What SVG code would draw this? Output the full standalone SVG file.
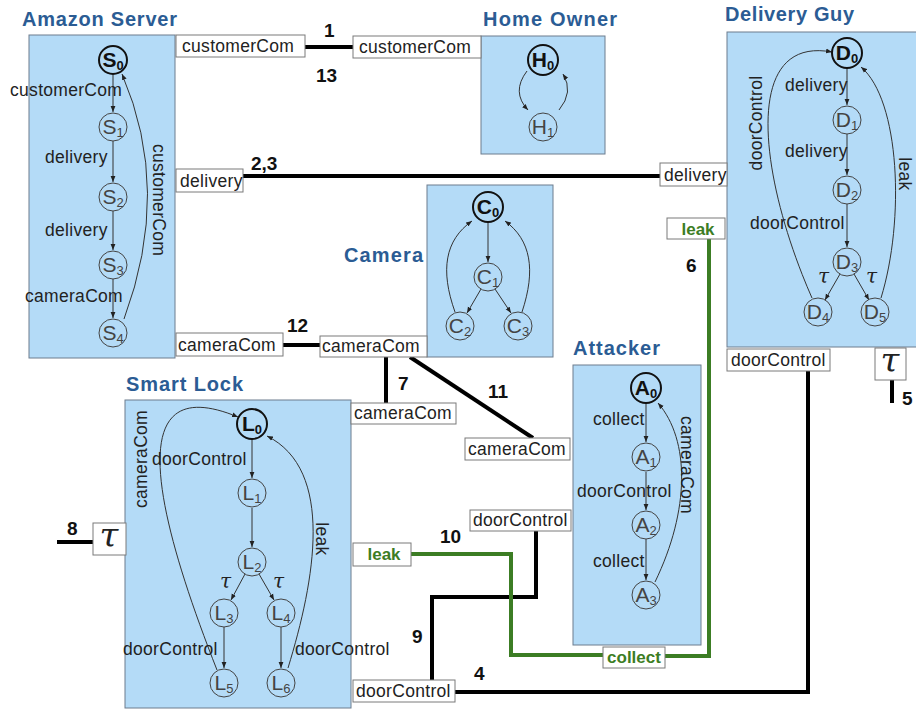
<svg xmlns="http://www.w3.org/2000/svg" width="916" height="711" viewBox="0 0 916 711">
<style>
text{font-family:"Liberation Sans",Arial,sans-serif}
.box{fill:#b4dbf7;stroke:#6d7d8e;stroke-width:1}
.title{font-size:20px;font-weight:bold;fill:#2b5c94}
.port{fill:#fff;stroke:#7a7a7a;stroke-width:1}
.pt{font-size:17.5px;fill:#222;letter-spacing:0.3px}
.gt{font-size:17px;font-weight:bold;fill:#3c7d24;text-anchor:middle}
.lbl{font-size:17.5px;fill:#222;letter-spacing:0.3px}
.num{font-size:19px;font-weight:bold;fill:#111}
.st{fill:none;stroke:#444;stroke-width:1}
.st0{fill:none;stroke:#111;stroke-width:2}
.nt{font-size:21px;fill:#444;text-anchor:middle}
.nt0{font-size:21px;fill:#111;font-weight:bold;text-anchor:middle}
.sb{font-size:13px}
.e{fill:none;stroke:#333;stroke-width:1;marker-end:url(#ar)}
.w{fill:none;stroke:#000;stroke-width:4}
.g{fill:none;stroke:#3c7d24;stroke-width:4}
.tau{font-family:"DejaVu Serif",serif;font-style:italic;fill:#222}
</style>
<defs>
<marker id="ar" viewBox="0 0 10 10" refX="10" refY="5" markerUnits="userSpaceOnUse" markerWidth="6" markerHeight="6" orient="auto"><path d="M0,1 L10,5 L0,9 z" fill="#222"/></marker>
</defs>

<!-- Amazon Server -->
<g id="amazon-server">
<text class="title" x="22" y="26" textLength="155">Amazon Server</text>
<rect class="box" x="29" y="35" width="146" height="323"/>
<g id="amazon-edges">
<path class="e" d="M113 75 V112"/>
<path class="e" d="M113 141 V182"/>
<path class="e" d="M113 211 V250"/>
<path class="e" d="M113 279 V318"/>
<path class="e" d="M124 319 Q172 190 122 74"/>
</g>
<g id="S0"><circle class="st0" cx="113" cy="60" r="14"/><text class="nt0" x="113" y="67">S<tspan class="sb" dy="3">0</tspan></text></g>
<g id="S1"><circle class="st" cx="113" cy="127" r="14"/><text class="nt" x="113" y="134">S<tspan class="sb" dy="3">1</tspan></text></g>
<g id="S2"><circle class="st" cx="113" cy="197" r="14"/><text class="nt" x="113" y="204">S<tspan class="sb" dy="3">2</tspan></text></g>
<g id="S3"><circle class="st" cx="113" cy="265" r="14"/><text class="nt" x="113" y="272">S<tspan class="sb" dy="3">3</tspan></text></g>
<g id="S4"><circle class="st" cx="113" cy="333" r="14"/><text class="nt" x="113" y="340">S<tspan class="sb" dy="3">4</tspan></text></g>
<text class="lbl" x="10" y="96">customerCom</text>
<text class="lbl" x="45" y="163">delivery</text>
<text class="lbl" x="45" y="236">delivery</text>
<text class="lbl" x="25" y="302">cameraCom</text>
<text class="lbl" transform="translate(153,200) rotate(90)" text-anchor="middle">customerCom</text>
</g>

<!-- Home Owner -->
<g id="home-owner">
<text class="title" x="483" y="26" textLength="134">Home Owner</text>
<rect class="box" x="481" y="36" width="124" height="118"/>
<g id="home-edges">
<path class="e" d="M527 71 Q511 92 528 110"/>
<path class="e" d="M559 110 Q574 92 563 74"/>
</g>
<g id="H0"><circle class="st0" cx="543" cy="60" r="15"/><text class="nt0" x="543" y="67">H<tspan class="sb" dy="3">0</tspan></text></g>
<g id="H1"><circle class="st" cx="543" cy="127" r="14"/><text class="nt" x="543" y="134">H<tspan class="sb" dy="3">1</tspan></text></g>
</g>

<!-- Delivery Guy -->
<g id="delivery-guy">
<text class="title" x="725" y="21" textLength="129">Delivery Guy</text>
<rect class="box" x="727" y="32" width="200" height="315"/>
<g id="delivery-edges">
<path class="e" d="M847 68 V105"/>
<path class="e" d="M847 134 V175"/>
<path class="e" d="M847 204 V247"/>
<path class="e" d="M840 274 L825 300"/>
<path class="e" d="M854 274 L869 300"/>
<path class="e" d="M812 298 C760 180 740 35 832 52"/>
<path class="e" d="M881 298 C905 220 900 100 861 67"/>
</g>
<g id="D0"><circle class="st0" cx="847" cy="53" r="15"/><text class="nt0" x="847" y="60">D<tspan class="sb" dy="3">0</tspan></text></g>
<g id="D1"><circle class="st" cx="847" cy="120" r="14"/><text class="nt" x="847" y="127">D<tspan class="sb" dy="3">1</tspan></text></g>
<g id="D2"><circle class="st" cx="847" cy="190" r="14"/><text class="nt" x="847" y="197">D<tspan class="sb" dy="3">2</tspan></text></g>
<g id="D3"><circle class="st" cx="847" cy="262" r="14"/><text class="nt" x="847" y="269">D<tspan class="sb" dy="3">3</tspan></text></g>
<g id="D4"><circle class="st" cx="818" cy="312" r="14"/><text class="nt" x="818" y="319">D<tspan class="sb" dy="3">4</tspan></text></g>
<g id="D5"><circle class="st" cx="875" cy="312" r="14"/><text class="nt" x="875" y="319">D<tspan class="sb" dy="3">5</tspan></text></g>
<text class="lbl" x="785" y="91">delivery</text>
<text class="lbl" x="785" y="157">delivery</text>
<text class="lbl" x="750" y="229">doorControl</text>
<text class="tau" x="818" y="283" font-size="20">τ</text>
<text class="tau" x="866" y="283" font-size="20">τ</text>
<text class="lbl" transform="translate(762,123) rotate(-90)" text-anchor="middle">doorControl</text>
<text class="lbl" transform="translate(899,174) rotate(90)" text-anchor="middle">leak</text>
</g>

<!-- Camera -->
<g id="camera">
<text class="title" x="344" y="262" textLength="79">Camera</text>
<rect class="box" x="427" y="185" width="126" height="172"/>
<g id="camera-edges">
<path class="e" d="M488 222 V262"/>
<path class="e" d="M481 289 L467 313"/>
<path class="e" d="M495 289 L511 313"/>
<path class="e" d="M455 312 C440 270 445 240 472 221"/>
<path class="e" d="M522 312 C536 270 531 240 505 221"/>
</g>
<g id="C0"><circle class="st0" cx="488" cy="207" r="15"/><text class="nt0" x="488" y="214">C<tspan class="sb" dy="3">0</tspan></text></g>
<g id="C1"><circle class="st" cx="488" cy="277" r="14"/><text class="nt" x="488" y="284">C<tspan class="sb" dy="3">1</tspan></text></g>
<g id="C2"><circle class="st" cx="460" cy="326" r="14"/><text class="nt" x="460" y="333">C<tspan class="sb" dy="3">2</tspan></text></g>
<g id="C3"><circle class="st" cx="518" cy="326" r="14"/><text class="nt" x="518" y="333">C<tspan class="sb" dy="3">3</tspan></text></g>
</g>

<!-- Smart Lock -->
<g id="smart-lock">
<text class="title" x="126" y="391" textLength="117">Smart Lock</text>
<rect class="box" x="125" y="400" width="226" height="308"/>
<g id="lock-edges">
<path class="e" d="M252 439 V478"/>
<path class="e" d="M252 508 V547"/>
<path class="e" d="M245 574 L231 600"/>
<path class="e" d="M259 574 L274 600"/>
<path class="e" d="M224 627 V668"/>
<path class="e" d="M281 627 V668"/>
<path class="e" d="M217 670 C150 500 125 370 238 417"/>
<path class="e" d="M288 668 C315 580 335 470 267 436"/>
</g>
<g id="L0"><circle class="st0" cx="252" cy="424" r="15"/><text class="nt0" x="252" y="431">L<tspan class="sb" dy="3">0</tspan></text></g>
<g id="L1"><circle class="st" cx="252" cy="493" r="14"/><text class="nt" x="252" y="500">L<tspan class="sb" dy="3">1</tspan></text></g>
<g id="L2"><circle class="st" cx="252" cy="562" r="14"/><text class="nt" x="252" y="569">L<tspan class="sb" dy="3">2</tspan></text></g>
<g id="L3"><circle class="st" cx="224" cy="613" r="14"/><text class="nt" x="224" y="620">L<tspan class="sb" dy="3">3</tspan></text></g>
<g id="L4"><circle class="st" cx="281" cy="613" r="14"/><text class="nt" x="281" y="620">L<tspan class="sb" dy="3">4</tspan></text></g>
<g id="L5"><circle class="st" cx="224" cy="683" r="14"/><text class="nt" x="224" y="690">L<tspan class="sb" dy="3">5</tspan></text></g>
<g id="L6"><circle class="st" cx="281" cy="683" r="14"/><text class="nt" x="281" y="690">L<tspan class="sb" dy="3">6</tspan></text></g>
<text class="lbl" x="152" y="465">doorControl</text>
<text class="tau" x="220" y="588" font-size="20">τ</text>
<text class="tau" x="273" y="588" font-size="20">τ</text>
<text class="lbl" x="123" y="655">doorControl</text>
<text class="lbl" x="295" y="655">doorControl</text>
<text class="lbl" transform="translate(147,459) rotate(-90)" text-anchor="middle">cameraCom</text>
<text class="lbl" transform="translate(316,539) rotate(90)" text-anchor="middle">leak</text>
</g>

<!-- Attacker -->
<g id="attacker">
<text class="title" x="573" y="355" textLength="87">Attacker</text>
<rect class="box" x="573" y="365" width="128" height="280"/>
<g id="attacker-edges">
<path class="e" d="M646 403 V442"/>
<path class="e" d="M646 472 V510"/>
<path class="e" d="M646 539 V580"/>
<path class="e" d="M655 582 C690 510 690 440 658 403"/>
</g>
<g id="A0"><circle class="st0" cx="646" cy="388" r="15"/><text class="nt0" x="646" y="395">A<tspan class="sb" dy="3">0</tspan></text></g>
<g id="A1"><circle class="st" cx="646" cy="457" r="14"/><text class="nt" x="646" y="464">A<tspan class="sb" dy="3">1</tspan></text></g>
<g id="A2"><circle class="st" cx="646" cy="525" r="14"/><text class="nt" x="646" y="532">A<tspan class="sb" dy="3">2</tspan></text></g>
<g id="A3"><circle class="st" cx="646" cy="595" r="14"/><text class="nt" x="646" y="602">A<tspan class="sb" dy="3">3</tspan></text></g>
<text class="lbl" x="593" y="425">collect</text>
<text class="lbl" x="577" y="497">doorControl</text>
<text class="lbl" x="593" y="567">collect</text>
<text class="lbl" transform="translate(681,465) rotate(90)" text-anchor="middle">cameraCom</text>
</g>

<!-- Connectors -->
<g id="connectors">
<path class="w" d="M305 47 H353"/>
<path class="w" d="M243 176 H660"/>
<path class="w" d="M283 345 H320"/>
<path class="w" d="M386 357 V403"/>
<path class="w" d="M410 357 L533 438"/>
<path class="w" d="M57 542 H93"/>
<path class="w" d="M892 380 V403"/>
<path class="w" d="M808 371 V692 H455"/>
<path class="w" d="M536 531 V597 H432 V680"/>
<path class="g" d="M709 239 V656 H665"/>
<path class="g" d="M411 554 H511 V655 H603"/>
<text class="num" x="324" y="37">1</text>
<text class="num" x="316" y="82">13</text>
<text class="num" x="251" y="170">2,3</text>
<text class="num" x="287" y="332">12</text>
<text class="num" x="398" y="390">7</text>
<text class="num" x="488" y="398">11</text>
<text class="num" x="686" y="272">6</text>
<text class="num" x="902" y="405">5</text>
<text class="num" x="67" y="535">8</text>
<text class="num" x="440" y="543">10</text>
<text class="num" x="412" y="643">9</text>
<text class="num" x="474" y="680">4</text>
</g>

<!-- Ports -->
<g id="port-amazon-customerCom"><rect class="port" x="176" y="35" width="129" height="22"/><text class="pt" x="182" y="52">customerCom</text></g>
<g id="port-home-customerCom"><rect class="port" x="353" y="36" width="128" height="22"/><text class="pt" x="359" y="53">customerCom</text></g>
<g id="port-amazon-delivery"><rect class="port" x="176" y="169" width="67" height="23"/><text class="pt" x="180" y="187">delivery</text></g>
<g id="port-delivery-delivery"><rect class="port" x="660" y="163" width="67" height="23"/><text class="pt" x="664" y="181">delivery</text></g>
<g id="port-delivery-leak"><rect class="port" x="667" y="218" width="58" height="21"/><text class="gt" x="698" y="235">leak</text></g>
<g id="port-delivery-doorControl"><rect class="port" x="727" y="349" width="103" height="22"/><text class="pt" x="731" y="366">doorControl</text></g>
<g id="port-delivery-tau"><rect class="port" x="875" y="348" width="31" height="32"/><text class="tau" x="890" y="372" font-size="34" text-anchor="middle">τ</text></g>
<g id="port-amazon-cameraCom"><rect class="port" x="176" y="333" width="107" height="23"/><text class="pt" x="178" y="351">cameraCom</text></g>
<g id="port-camera-cameraCom"><rect class="port" x="320" y="336" width="107" height="21"/><text class="pt" x="322" y="352">cameraCom</text></g>
<g id="port-lock-cameraCom"><rect class="port" x="351" y="403" width="105" height="21"/><text class="pt" x="354" y="419">cameraCom</text></g>
<g id="port-lock-tau"><rect class="port" x="93" y="523" width="33" height="32"/><text class="tau" x="109" y="547" font-size="34" text-anchor="middle">τ</text></g>
<g id="port-lock-leak"><rect class="port" x="353" y="543" width="58" height="23"/><text class="gt" x="384" y="560">leak</text></g>
<g id="port-lock-doorControl"><rect class="port" x="353" y="680" width="102" height="22"/><text class="pt" x="356" y="697">doorControl</text></g>
<g id="port-attacker-cameraCom"><rect class="port" x="465" y="438" width="105" height="22"/><text class="pt" x="468" y="455">cameraCom</text></g>
<g id="port-attacker-doorControl"><rect class="port" x="470" y="510" width="101" height="21"/><text class="pt" x="473" y="526">doorControl</text></g>
<g id="port-attacker-collect"><rect class="port" x="603" y="647" width="62" height="21"/><text class="gt" x="634" y="663">collect</text></g>
</svg>
